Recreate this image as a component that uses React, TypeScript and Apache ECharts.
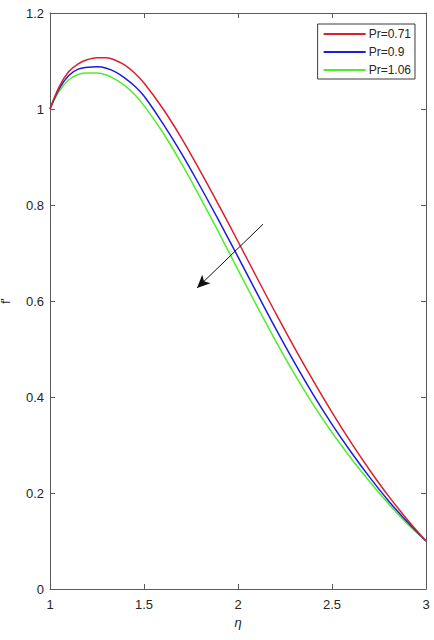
import React, { useEffect, useRef } from "react";
import * as echarts from "echarts";

const etaValues = [1.0, 1.05, 1.1, 1.15, 1.2, 1.25, 1.3, 1.35, 1.4, 1.45, 1.5, 1.6, 1.7, 1.8, 1.9, 2.0, 2.1, 2.2, 2.3, 2.4, 2.5, 2.6, 2.7, 2.8, 2.9, 3.0];
const prLabels = ["Pr=0.71", "Pr=0.9", "Pr=1.06"];
const pr071 = [1.0, 1.047, 1.078, 1.094, 1.103, 1.107, 1.107, 1.101, 1.091, 1.075, 1.054, 1.001, 0.939, 0.87, 0.798, 0.724, 0.649, 0.575, 0.503, 0.434, 0.368, 0.306, 0.248, 0.194, 0.145, 0.1];
const pr09 = [1.0, 1.043, 1.07, 1.083, 1.087, 1.088, 1.085, 1.077, 1.064, 1.048, 1.027, 0.97, 0.907, 0.838, 0.766, 0.692, 0.617, 0.543, 0.472, 0.405, 0.343, 0.286, 0.233, 0.184, 0.14, 0.1];
const pr106 = [1.0, 1.038, 1.061, 1.072, 1.075, 1.075, 1.071, 1.061, 1.048, 1.03, 1.007, 0.951, 0.886, 0.815, 0.741, 0.665, 0.59, 0.517, 0.448, 0.384, 0.326, 0.273, 0.224, 0.178, 0.136, 0.1];
const lineColors = ["#dc1f2b", "#1c1ce0", "#50ee2a"];
const xTicks = { min: 1, max: 3, interval: 0.5 };
const yTicks = { min: 0, max: 1.2, interval: 0.2 };
const arrowStart = [2.133, 0.76];
const arrowEnd = [1.782, 0.627];

const FONT = "Liberation Sans, Arial, Helvetica, sans-serif";
const AXIS_COLOR = "#5a5a5a";
const TEXT_COLOR = "#262626";

export default function App() {
  const ref = useRef<HTMLDivElement>(null);
  useEffect(() => {
    if (!ref.current) return;
    const chart = echarts.init(ref.current, undefined, { renderer: "svg" });
    const seriesVals = [pr071, pr09, pr106];
    const axisCommon = {
      axisLine: { show: true, onZero: false, lineStyle: { color: AXIS_COLOR, width: 1 } },
      axisTick: { show: true, inside: true, length: 5, lineStyle: { color: AXIS_COLOR } },
      splitLine: { show: false },
    };
    const option: any = {
      animation: false,
      backgroundColor: "#ffffff",
      textStyle: { fontFamily: FONT },
      grid: { left: 50, top: 13, right: 8, bottom: 51, containLabel: false, outerBoundsMode: "none" },
      legend: {
        orient: "vertical",
        right: 19,
        top: 24,
        icon: "rect",
        itemWidth: 42,
        itemHeight: 2,
        itemGap: 4,
        padding: [3, 4, 2, 6],
        borderColor: "#3a3a3a",
        borderWidth: 1,
        backgroundColor: "#ffffff",
        textStyle: { fontSize: 12, lineHeight: 14, color: TEXT_COLOR, fontFamily: FONT, padding: [0, 0, 0, -2] },
        data: prLabels,
      },
      xAxis: [
        {
          type: "value",
          position: "bottom",
          ...xTicks,
          ...axisCommon,
          axisLabel: { fontSize: 13, color: TEXT_COLOR, margin: 9, fontFamily: FONT },
          name: "η",
          nameLocation: "middle",
          nameGap: 27,
          nameTextStyle: { fontSize: 13, color: TEXT_COLOR, fontStyle: "italic", fontFamily: FONT },
        },
        {
          type: "value",
          position: "top",
          ...xTicks,
          ...axisCommon,
          axisLabel: { show: false },
        },
      ],
      yAxis: [
        {
          type: "value",
          position: "left",
          ...yTicks,
          ...axisCommon,
          axisLabel: { fontSize: 13, color: TEXT_COLOR, margin: 6, fontFamily: FONT },
          name: "f'",
          nameLocation: "middle",
          nameGap: 38,
          nameRotate: 90,
          nameTextStyle: { fontSize: 12, color: TEXT_COLOR, fontFamily: FONT },
        },
        {
          type: "value",
          position: "right",
          ...yTicks,
          ...axisCommon,
          axisLabel: { show: false },
        },
      ],
      series: prLabels.map((name, i) => ({
        name,
        type: "line",
        xAxisIndex: 0,
        yAxisIndex: 0,
        showSymbol: false,
        symbol: "none",
        smooth: 0.4,
        color: lineColors[i],
        lineStyle: { color: lineColors[i], width: 1.5 },
        data: etaValues.map((x, k) => [x, seriesVals[i][k]]),
        z: 3 - i,
        markLine:
          i === 0
            ? {
                silent: true,
                symbol: ["none", "arrow"],
                symbolSize: [9, 13],
                label: { show: false },
                lineStyle: { color: "#111111", width: 1, type: "solid" },
                data: [[{ coord: arrowStart }, { coord: arrowEnd }]],
              }
            : undefined,
      })),
    };
    chart.setOption(option);
    return () => chart.dispose();
  }, []);
  return <div ref={ref} style={{ width: 434, height: 640, position: "absolute", left: 0, top: 0 }} />;
}
